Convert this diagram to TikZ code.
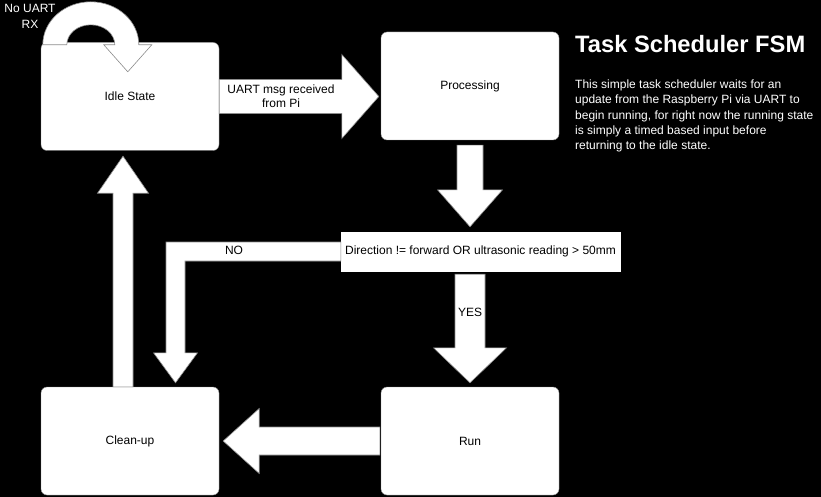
\documentclass[tikz,border=0pt]{standalone}
\usepackage{fontspec}
\setmainfont{Liberation Sans}
\usetikzlibrary{calc}
\definecolor{edgegray}{HTML}{8C8C8C}
\tikzset{
  state/.style={draw=edgegray, fill=white, rounded corners=6pt, minimum width=178pt,
    minimum height=108pt, inner sep=0pt, font=\fontsize{12}{14.4}\selectfont, text=black},
  condbox/.style={draw=white, fill=white, minimum width=279pt, minimum height=39pt,
    inner sep=0pt, font=\fontsize{12}{14.4}\selectfont, text=black},
  blockarrow/.style={draw=edgegray, fill=white, line width=0.6pt, line join=miter},
  lbl/.style={font=\fontsize{12}{14.4}\selectfont, text=black, align=center, inner sep=0pt},
  wlbl/.style={font=\fontsize{12}{15.5}\selectfont, text=white, align=center, inner sep=0pt},
}
% #1 start, #2 end, #3 half shaft width, #4 half head width, #5 head length
\newcommand\flexarrow[5]{%
  \path coordinate (fa-h) at ($(#2)!#5!(#1)$);
  \draw[blockarrow] ($(#1)!#3!90:(#2)$) -- ($(fa-h)!#3!-90:(#1)$) -- ($(fa-h)!#4!-90:(#1)$)
    -- (#2) -- ($(fa-h)!#4!90:(#1)$) -- ($(fa-h)!#3!90:(#1)$) -- ($(#1)!#3!-90:(#2)$) -- cycle;}
\begin{document}
\begin{tikzpicture}[x=1pt, y=-1pt]
\fill[black] (0,0) rectangle (821,497);
\useasboundingbox (0,0) rectangle (821,497);

% states
\node[state] (idle)  at (130,96.5) {Idle State};
\node[state] (proc)  at (470,86)   {Processing};
\node[state] (run)   at (470,441)  {Run};
\node[state] (clean) at (130,441)  {Clean-up};
\node[condbox] (dec) at (480.5,251.5) {Direction != forward OR ultrasonic reading > 50mm};

% idle -> processing
\coordinate (a1s) at (idle.east);
\coordinate (a1e) at ($(proc.west |- idle.east)+(-2,0)$);
\flexarrow{a1s}{a1e}{17pt}{42pt}{37pt}
\node[lbl] (l1) at (281,96) {UART msg received\\from Pi};

% processing -> decision
\coordinate (a2s) at ($(proc.south)+(0,5)$);
\coordinate (a2e) at ($(proc.south |- dec.north)+(0,-5)$);
\flexarrow{a2s}{a2e}{13pt}{32.5pt}{37pt}

% decision -> run (YES)
\coordinate (a3s) at ($(run.north |- dec.south)+(0,3)$);
\coordinate (a3e) at ($(run.north)+(0,-4)$);
\flexarrow{a3s}{a3e}{15pt}{36.5pt}{35pt}
\node[lbl] (yes) at (470,312) {YES};

% run -> clean-up
\coordinate (a4s) at ($(run.west)+(-1,0)$);
\coordinate (a4e) at ($(clean.east)+(4,0)$);
\flexarrow{a4s}{a4e}{14pt}{32.5pt}{36pt}

% clean-up -> idle
\coordinate (a5s) at ($(clean.north)+(-7,0)$);
\coordinate (a5e) at ($(idle.south)+(-7,5.5)$);
\flexarrow{a5s}{a5e}{10pt}{25.5pt}{37pt}

% decision -> clean-up (NO)
\coordinate (nos) at (dec.west);
\coordinate (notip) at ($(clean.north)+(45.5,-4)$);
\coordinate (nocorner) at (notip |- nos);
\draw[blockarrow] ($(nos)+(0,-9.5)$) -- ($(nocorner)+(-9.5,-9.5)$) -- ($(notip)+(-9.5,-30)$)
  -- ($(notip)+(-22,-30)$) -- (notip) -- ($(notip)+(22,-30)$) -- ($(notip)+(9.5,-30)$)
  -- ($(nocorner)+(9.5,9.5)$) -- ($(nos)+(0,9.5)$) -- cycle;
\node[lbl] (no) at (234,250) {NO};

% self loop on idle
\begin{scope}[shift={(idle.north west)}]
  \draw[blockarrow] (2,2.5) arc[start angle=180, end angle=0, x radius=48pt, y radius=43pt]
    -- (111,2.5) -- (87,29.5) -- (63,2.5) -- (74,2.5)
    arc[start angle=0, end angle=180, x radius=24pt, y radius=20pt] -- cycle;
\end{scope}
\node[wlbl] (loop) at (30,16.5) {No UART\\RX};

% title and description
\node[anchor=base west, inner sep=0pt, text=white, font=\fontsize{23.7}{27}\bfseries\selectfont] (title) at (575,52.3) {Task Scheduler FSM};
\node[anchor=north west, inner sep=0pt, text=white, align=left, font=\fontsize{12}{15.4}\selectfont] (desc) at (575,79.5)
  {This simple task scheduler waits for an\\update from the Raspberry Pi via UART to\\begin running, for right now the running state\\is simply a timed based input before\\returning to the idle state.};
\end{tikzpicture}
\end{document}
